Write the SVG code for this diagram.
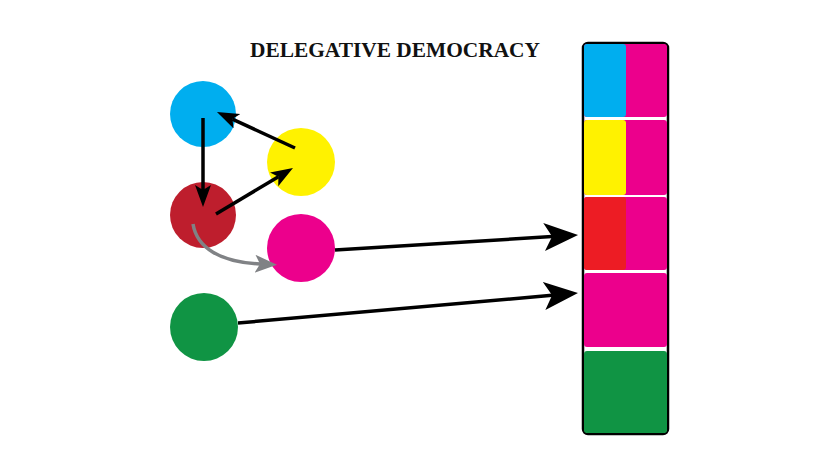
<svg xmlns="http://www.w3.org/2000/svg" width="840" height="476" viewBox="0 0 840 476">
<defs>
<marker id="headS" markerUnits="userSpaceOnUse" markerWidth="24" markerHeight="18" refX="5" refY="8" orient="auto">
<path d="M0,0 L22,8 L0,16 L5,8 z" fill="#000"/>
</marker>
<marker id="headG" markerUnits="userSpaceOnUse" markerWidth="24" markerHeight="20" refX="5" refY="9" orient="auto">
<path d="M0,0 L22,9 L0,18 L5,9 z" fill="#808285"/>
</marker>
<marker id="headL" markerUnits="userSpaceOnUse" markerWidth="36" markerHeight="30" refX="8" refY="14" orient="auto">
<path d="M0,0 L34,14 L0,28 L8,14 z" fill="#000"/>
</marker>
</defs>
<style>
.title{font-family:"Liberation Serif","Times New Roman",serif;font-weight:bold;font-size:21px;fill:#111}
.conn{stroke:#000;stroke-width:3.5;fill:none}
.gray{stroke:#808285;stroke-width:3.5;fill:none}
</style>
<rect width="840" height="476" fill="#ffffff"/>
<text class="title" x="250" y="57" textLength="290" lengthAdjust="spacingAndGlyphs">DELEGATIVE DEMOCRACY</text>

<g id="node-blue"><circle cx="203" cy="114" r="33" fill="#00aeef"/></g>
<g id="node-yellow"><circle cx="301" cy="162" r="34" fill="#fff200"/></g>
<g id="node-red"><circle cx="203" cy="215" r="33" fill="#be1e2d"/></g>
<g id="node-magenta"><circle cx="301" cy="248" r="34" fill="#ec008c"/></g>
<g id="node-green"><circle cx="204" cy="327" r="34" fill="#109444"/></g>

<g id="node-bar">
<rect x="583" y="43" width="85" height="391" rx="5" fill="#ffffff" stroke="#000" stroke-width="2.5"/>
<rect x="584" y="44" width="83" height="73" rx="3" fill="#ec008c"/>
<rect x="584" y="44" width="42" height="73" rx="3" fill="#00aeef"/>
<rect x="584" y="120" width="83" height="75" rx="3" fill="#ec008c"/>
<rect x="584" y="120" width="42" height="75" rx="3" fill="#fff200"/>
<rect x="584" y="197" width="83" height="73" rx="3" fill="#ec008c"/>
<rect x="584" y="197" width="42" height="73" rx="3" fill="#ed1c24"/>
<rect x="584" y="273" width="83" height="74" rx="3" fill="#ec008c"/>
<rect x="584" y="351" width="83" height="82" rx="3" fill="#109444"/>
</g>

<g id="connectors">
<line class="conn" x1="203" y1="118" x2="203" y2="190" marker-end="url(#headS)"/>
<line class="conn" x1="216" y1="214" x2="278.4" y2="176.7" marker-end="url(#headS)"/>
<line class="conn" x1="295" y1="148" x2="232.4" y2="119.1" marker-end="url(#headS)"/>
<path class="gray" d="M193,224 C197,248 220,262 260,264" marker-end="url(#headG)"/>
<line class="conn" x1="335" y1="250" x2="552.1" y2="236.6" marker-end="url(#headL)"/>
<line class="conn" x1="238" y1="323" x2="552.1" y2="295.3" marker-end="url(#headL)"/>
</g>
</svg>
